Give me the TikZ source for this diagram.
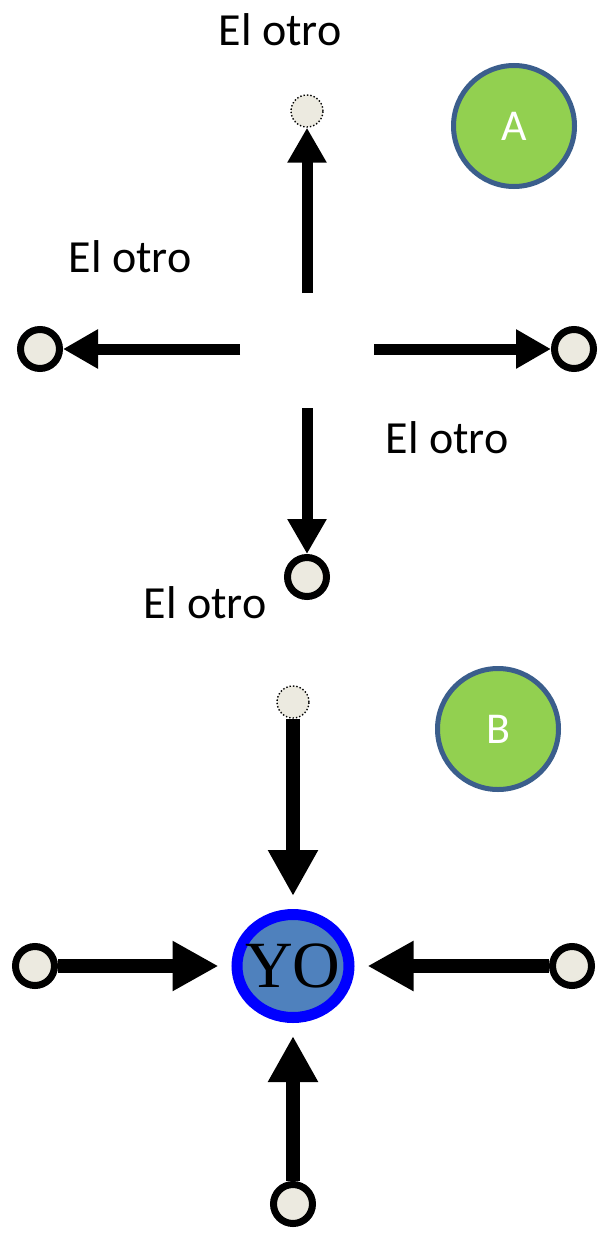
\documentclass[tikz,border=0pt]{standalone}
\usepackage{fontspec}
\usepackage{tikz}
\usetikzlibrary{positioning}
\usetikzlibrary{shapes.geometric}
\usetikzlibrary{arrows.meta}
\newfontfamily\otrofont{Carlito}
\newfontfamily\yofont{Liberation Serif}
\definecolor{otrofill}{RGB}{236,234,224}
\definecolor{letterfill}{RGB}{146,208,80}
\definecolor{letterline}{RGB}{59,94,140}
\definecolor{yofill}{RGB}{79,129,189}

\tikzset{
    otro/.style={circle, inner sep=0pt, fill=otrofill},
    otrothin/.style={otro, draw=black, dotted, line width=1.4pt, minimum size=32pt},
    otrothick/.style={otro, draw=black, line width=7pt, minimum size=39pt},
    otrolabel/.style={font=\otrofont\fontsize{46}{50}\selectfont},
    letter/.style={circle, draw=letterline, line width=5pt, fill=letterfill, minimum size=121pt,
        text=white, font=\otrofont\fontsize{44}{48}\selectfont},
    arrowA/.style={line width=11pt, -{Triangle[length=35pt, width=37pt]}},
    arrowB/.style={line width=14pt, -{Triangle[length=46pt, width=47pt]}, shorten >=13pt}
}

\begin{document}
\begin{tikzpicture}[x=1pt, y=-1pt]
        \useasboundingbox (0,0) rectangle (606,1239);

        % A: el yo hacia el otro
        \node[letter] (letA) at (514,126) {A};
        \node[otrothin] (aN) at (307,111) {};
        \node[otrothick] (aW) at (40,349) {};
        \node[otrothick] (aE) at (574,349) {};
        \node[otrothick] (aS) at (307,577) {};
        \coordinate (fromN) at (307,293);
        \coordinate (fromW) at (240,349);
        \coordinate (fromE) at (374,349);
        \coordinate (fromS) at (307,408);
        \foreach \d in {N, W, E, S}
            \draw[arrowA] (from\d) -- (a\d);
        \node[otrolabel] (lblN) at (280,30) {El otro};
        \node[otrolabel] (lblW) at (130,257) {El otro};
        \node[otrolabel] (lblE) at (447,438) {El otro};
        \node[otrolabel] (lblS) at (205,603) {El otro};

        % B: el otro hacia el yo
        \node[letter] (letB) at (498,729) {B};
        \node[ellipse, draw=blue, line width=11pt, fill=yofill, minimum width=112pt, minimum height=103pt,
            inner sep=0pt, label={[font=\yofont\fontsize{66}{70}\selectfont]center:YO}] (yo) at (293,966) {};
        \node[otrothin] (bN) at (293,702) {};
        \node[otrothick] (bW) at (35,966) {};
        \node[otrothick] (bE) at (572,966) {};
        \node[otrothick] (bS) at (293,1204) {};
        \foreach \d/\a in {N/north, W/west, E/east, S/south}
            \draw[arrowB] (b\d) -- (yo.\a);
    \end{tikzpicture}
\end{document}
